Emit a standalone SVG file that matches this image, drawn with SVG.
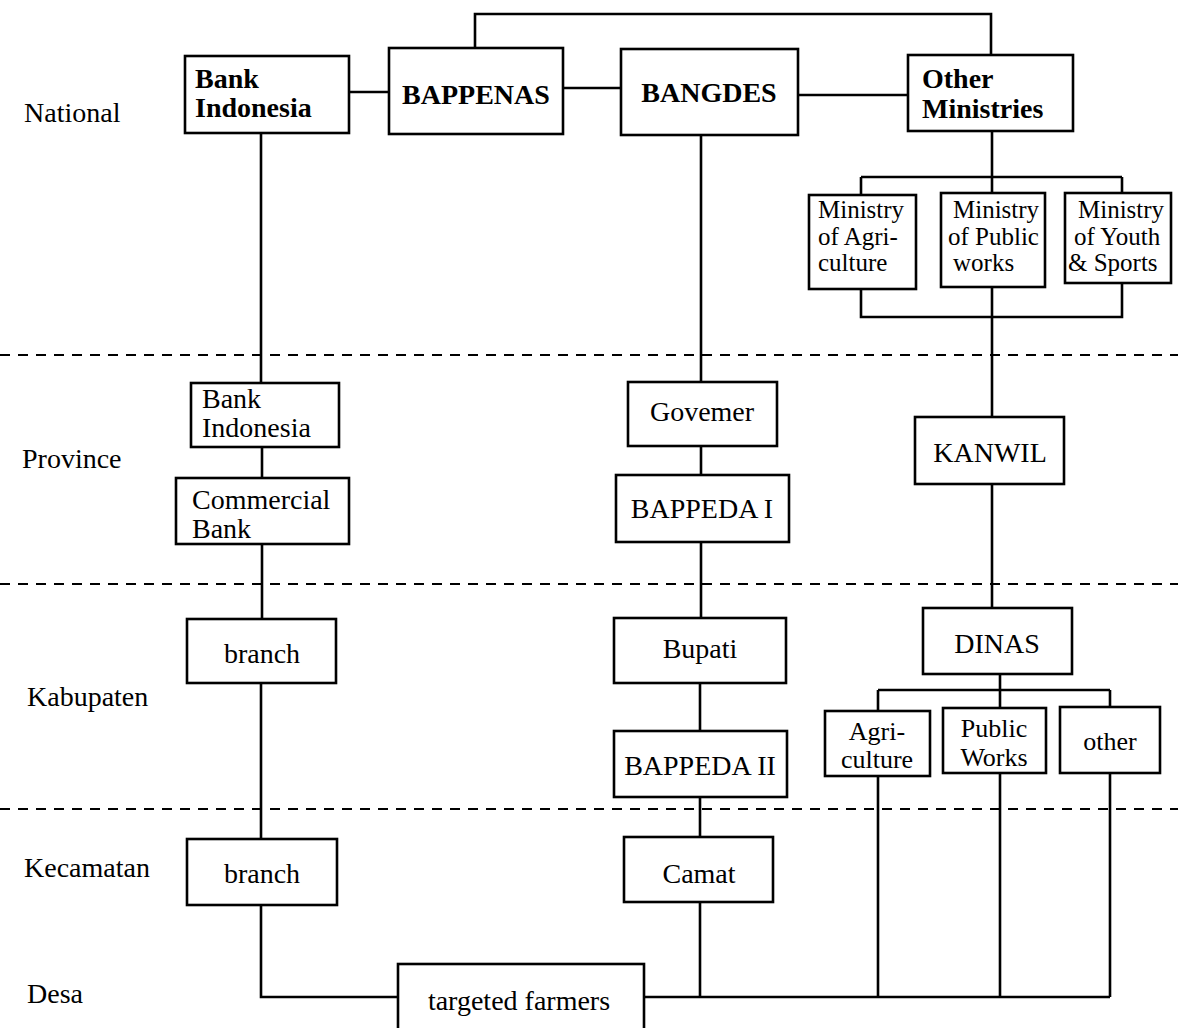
<svg xmlns="http://www.w3.org/2000/svg" width="1178" height="1028" viewBox="0 0 1178 1028">
<style>
  .box { fill: #fff; stroke: #000; stroke-width: 2.6; }
  .ln { fill: none; stroke: #000; stroke-width: 2.6; }
  .dash { fill: none; stroke: #000; stroke-width: 2; stroke-dasharray: 10 8; }
  text { font-family: "Liberation Serif", "Times New Roman", serif; fill: #000; }
  .lv { font-size: 28px; }
  .b { font-size: 28px; font-weight: bold; }
  .t { font-size: 28px; }
  .m { font-size: 25px; }
  .s { font-size: 26px; }
  .c { text-anchor: middle; }
</style>
<rect width="1178" height="1028" fill="#fff"/>
<g id="levels">
  <text class="lv" x="24" y="122">National</text>
  <text class="lv" x="22" y="468">Province</text>
  <text class="lv" x="27" y="706">Kabupaten</text>
  <text class="lv" x="24" y="877">Kecamatan</text>
  <text class="lv" x="27" y="1003">Desa</text>
</g>
<g id="separators">
  <line class="dash" x1="0" y1="355" x2="1178" y2="355"/>
  <line class="dash" x1="0" y1="584" x2="1178" y2="584"/>
  <line class="dash" x1="0" y1="809" x2="1178" y2="809"/>
</g>
<g id="connectors">
  <path class="ln" d="M475,48 V14 H991 V55"/>
  <path class="ln" d="M349,92 H389"/>
  <path class="ln" d="M563,88 H621"/>
  <path class="ln" d="M798,95 H908"/>
  <path class="ln" d="M261,133 V383 M262,447 V478 M262,544 V619 M261,683 V839 M261,905 V997 H398"/>
  <path class="ln" d="M701,135 V382 M701,446 V475 M701,542 V618 M700,683 V731 M700,797 V837 M700,902 V997"/>
  <path class="ln" d="M992,131 V193 M861,177 H1122 M861,177 V195 M1122,177 V193"/>
  <path class="ln" d="M861,289 V317 H1122 V283 M992,287 V417"/>
  <path class="ln" d="M992,484 V608"/>
  <path class="ln" d="M1000,674 V708 M878,690 H1110 M878,690 V711 M1110,690 V707"/>
  <path class="ln" d="M878,776 V997 M1000,773 V997 M1110,773 V997 M644,997 H1110"/>
</g>
<g id="bank-indonesia-national">
  <rect class="box" x="185" y="56" width="164" height="77"/>
  <text class="b" x="195" y="88">Bank</text>
  <text class="b" x="195" y="117">Indonesia</text>
</g>
<g id="bappenas">
  <rect class="box" x="389" y="48" width="174" height="86"/>
  <text class="b c" x="476" y="104">BAPPENAS</text>
</g>
<g id="bangdes">
  <rect class="box" x="621" y="49" width="177" height="86"/>
  <text class="b c" x="709" y="102">BANGDES</text>
</g>
<g id="other-ministries">
  <rect class="box" x="908" y="55" width="165" height="76"/>
  <text class="b" x="922" y="88">Other</text>
  <text class="b" x="922" y="118">Ministries</text>
</g>
<g id="ministry-agriculture">
  <rect class="box" x="809" y="195" width="107" height="94"/>
  <text class="m" x="818" y="218">Ministry</text>
  <text class="m" x="818" y="245">of Agri-</text>
  <text class="m" x="818" y="271">culture</text>
</g>
<g id="ministry-public-works">
  <rect class="box" x="941" y="193" width="104" height="94"/>
  <text class="m" x="953" y="218">Ministry</text>
  <text class="m" x="948" y="245">of Public</text>
  <text class="m" x="953" y="271">works</text>
</g>
<g id="ministry-youth-sports">
  <rect class="box" x="1065" y="193" width="106" height="90"/>
  <text class="m" x="1078" y="218">Ministry</text>
  <text class="m" x="1074" y="245">of Youth</text>
  <text class="m" x="1068" y="271">&amp; Sports</text>
</g>
<g id="bank-indonesia-province">
  <rect class="box" x="191" y="383" width="148" height="64"/>
  <text class="t" x="202" y="408">Bank</text>
  <text class="t" x="202" y="437">Indonesia</text>
</g>
<g id="commercial-bank">
  <rect class="box" x="176" y="478" width="173" height="66"/>
  <text class="t" x="192" y="509">Commercial</text>
  <text class="t" x="192" y="538">Bank</text>
</g>
<g id="govemer">
  <rect class="box" x="628" y="382" width="149" height="64"/>
  <text class="t c" x="702" y="421">Govemer</text>
</g>
<g id="bappeda-i">
  <rect class="box" x="616" y="475" width="173" height="67"/>
  <text class="t c" x="702" y="518">BAPPEDA I</text>
</g>
<g id="kanwil">
  <rect class="box" x="915" y="417" width="149" height="67"/>
  <text class="t c" x="990" y="462">KANWIL</text>
</g>
<g id="branch-kabupaten">
  <rect class="box" x="187" y="619" width="149" height="64"/>
  <text class="t c" x="262" y="663">branch</text>
</g>
<g id="bupati">
  <rect class="box" x="614" y="618" width="172" height="65"/>
  <text class="t c" x="700" y="658">Bupati</text>
</g>
<g id="bappeda-ii">
  <rect class="box" x="614" y="731" width="173" height="66"/>
  <text class="t c" x="700" y="775">BAPPEDA II</text>
</g>
<g id="dinas">
  <rect class="box" x="923" y="608" width="149" height="66"/>
  <text class="t c" x="997" y="653">DINAS</text>
</g>
<g id="agriculture">
  <rect class="box" x="825" y="711" width="105" height="65"/>
  <text class="s c" x="877" y="740">Agri-</text>
  <text class="s c" x="877" y="768">culture</text>
</g>
<g id="public-works">
  <rect class="box" x="943" y="708" width="103" height="65"/>
  <text class="s c" x="994" y="737">Public</text>
  <text class="s c" x="994" y="766">Works</text>
</g>
<g id="other">
  <rect class="box" x="1060" y="707" width="100" height="66"/>
  <text class="s c" x="1110" y="750">other</text>
</g>
<g id="branch-kecamatan">
  <rect class="box" x="187" y="839" width="150" height="66"/>
  <text class="t c" x="262" y="883">branch</text>
</g>
<g id="camat">
  <rect class="box" x="624" y="837" width="149" height="65"/>
  <text class="t c" x="699" y="883">Camat</text>
</g>
<g id="targeted-farmers">
  <rect class="box" x="398" y="964" width="246" height="80"/>
  <text class="t c" x="519" y="1010">targeted farmers</text>
</g>
</svg>
